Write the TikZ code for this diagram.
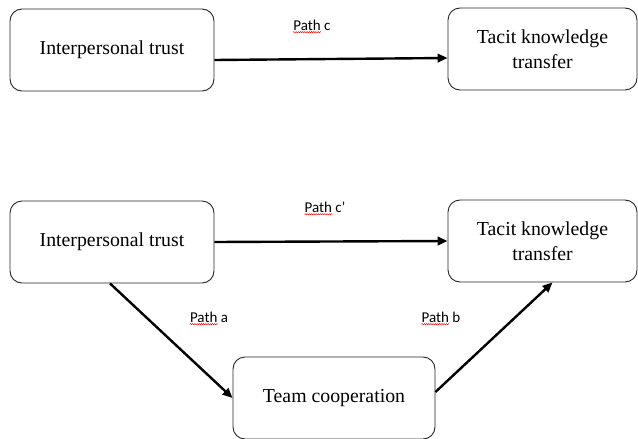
\documentclass[tikz,border=0pt]{standalone}
\usepackage{fontspec}
\setmainfont{Liberation Serif}
\newfontfamily\labfont{Carlito}
\usetikzlibrary{arrows.meta,decorations.pathmorphing}
\begin{document}
\begin{tikzpicture}[x=1pt,y=-1pt,
  box/.style={draw=black!85, line width=0.9pt, rounded corners=12pt, align=center,
    minimum height=82pt, inner sep=2pt, font=\fontsize{19.8}{25}\selectfont},
  conn/.style={line width=2.4pt, -{Triangle[length=10pt,width=8.5pt]}},
  lab/.style={font=\labfont\fontsize{15}{17}\selectfont, inner sep=0pt},
  spell/.style={draw=red, line width=0.5pt, decorate,
    decoration={snake, segment length=2.2pt, amplitude=0.6pt}}]
\useasboundingbox (0,0) rectangle (638,439);
\node[box, minimum width=204pt] (it1) at (112,50) {Interpersonal trust};
\node[box, minimum width=189pt] (tk1) at (542.5,49) {Tacit knowledge\\transfer};
\node[box, minimum width=204pt] (it2) at (112,242) {Interpersonal trust};
\node[box, minimum width=189pt] (tk2) at (542.5,241) {Tacit knowledge\\transfer};
\node[box, minimum width=202pt] (tc) at (334,398) {Team cooperation};
\draw[conn] ([yshift=-10pt]it1.east) -- ([yshift=-9pt]tk1.west);
\draw[conn] (it2.east) -- (tk2.west);
\draw[conn] ([xshift=-2pt]it2.south) -- (tc.west);
\draw[conn] ([yshift=6pt]tc.east) -- ([xshift=10pt]tk2.south);
\node[lab] (lc) at (312,25) {Path c};
\node[lab] (lcp) at (325,207) {Path c’};
\node[lab] (la) at (209,317) {Path a};
\node[lab] (lb) at (441,317) {Path b};
\foreach \n in {lc,lcp,la,lb}
  \draw[spell] ([yshift=-2pt]\n.base west) -- ++(28,0);
\end{tikzpicture}
\end{document}
